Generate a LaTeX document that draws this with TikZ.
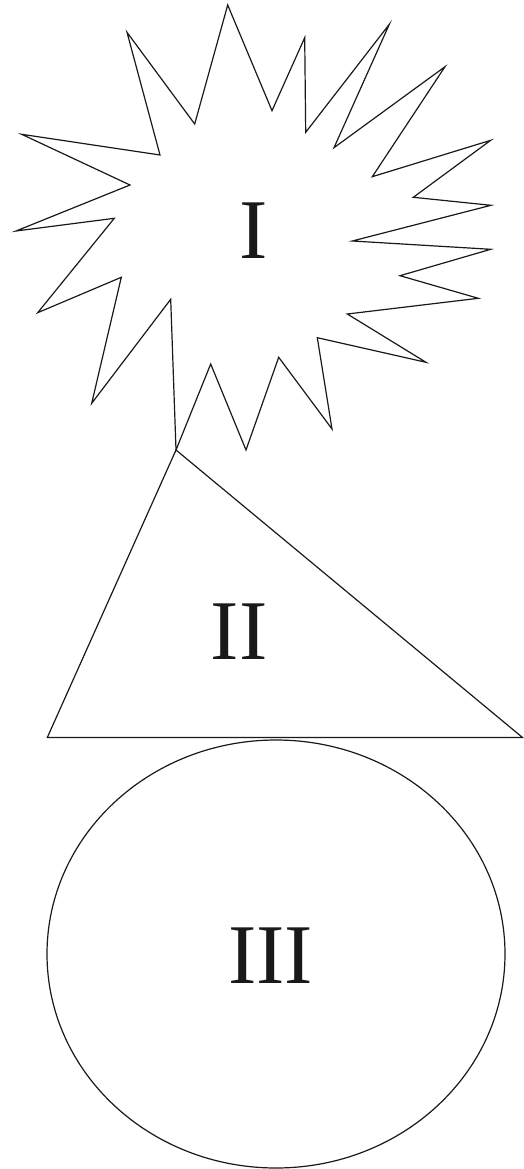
\documentclass[tikz,border=0pt]{standalone}
\usepackage{fontspec}
\setmainfont{Liberation Serif}
\begin{document}
\begin{tikzpicture}[x=1pt,y=-1pt,
  outline/.style={draw=black!90,line width=1.2pt,line join=miter},
  roman/.style={font=\fontsize{85}{85}\selectfont,text=black!90,inner sep=0pt}]
\useasboundingbox (0,0) rectangle (523,1169);
% star I
\draw[outline] (227.7,5) -- (272,110.7) -- (304.7,37.7) -- (305.7,132.3) -- (389.3,24.3) -- (334,147.7) -- (445,66.7) -- (372.3,176.7) -- (490.7,140.3) -- (413.3,197.3) -- (491,205.3) -- (352.3,241) -- (490.7,249.3) -- (400,275.7) -- (478.3,298.3) -- (347.3,314) -- (426,362.3) -- (317.3,337.7) -- (332,429) -- (278.7,357.3) -- (246,450) -- (210.7,364) -- (176,450) -- (170.7,299.3) -- (91.7,403.3) -- (121.3,277.3) -- (37.7,312.7) -- (114.3,218.3) -- (16,231) -- (130,185) -- (21.7,134.3) -- (160,155) -- (127,32.3) -- (194.7,124) -- cycle;
% triangle II
\coordinate (tA) at (176,450);
\coordinate (tB) at (47.3,737.5);
\coordinate (tC) at (522.5,737.5);
\draw[outline] (tA) -- (tB) -- (tC) -- cycle;
% ellipse III
\draw[outline] (276,954) ellipse [x radius=229, y radius=214];
% labels
\node[roman] (l1) at (253.5,231) {I};
\node[roman] (l2) at (239,632) {II};
\node[roman] (l3) at (270.5,956) {III};
\end{tikzpicture}
\end{document}
